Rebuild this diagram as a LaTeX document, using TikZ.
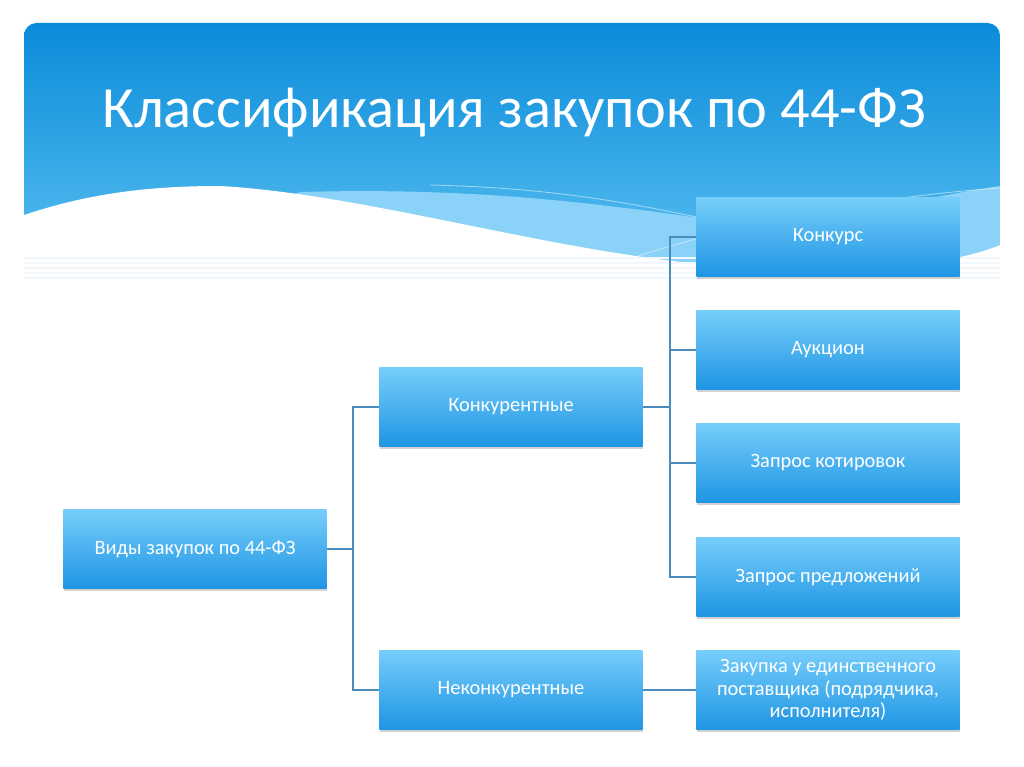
\documentclass[tikz,border=0pt]{standalone}
\usepackage{fontspec}
\setmainfont{Carlito}
\usetikzlibrary{positioning,shadows}

\definecolor{hdrtop}{HTML}{0A8BDA}
\definecolor{hdrbot}{HTML}{5CC1F1}
\definecolor{band}{HTML}{8AD2F7}
\definecolor{boxtop}{HTML}{76CDFA}
\definecolor{boxmid}{HTML}{4DB6F2}
\definecolor{boxbot}{HTML}{1E95E4}
\definecolor{wire}{HTML}{4A8DBD}
\definecolor{stripe}{HTML}{F1F8FD}

\begin{document}
\begin{tikzpicture}[x=0.025cm,y=-0.025cm,
  box/.style={minimum width=6.575cm, minimum height=1.975cm, inner sep=0pt,
    top color=boxtop, middle color=boxmid, bottom color=boxbot, text=white,
    font=\fontsize{14.5}{16}\selectfont, align=center,
    drop shadow={shadow xshift=0.6pt, shadow yshift=-1.8pt, opacity=0.35}},
  wire/.style={draw=wire, line width=1.1pt}]

  \fill [white] (0,0) rectangle (1024,767);
  \useasboundingbox (0,0) rectangle (1024,767);

  % header with wave
  \begin{scope}
    \clip [rounded corners=9] (24,23) rectangle (1000,300);
    \shade [top color=hdrtop, bottom color=hdrbot] (24,23) rectangle (1000,280);
    \fill [band] (300,192) .. controls (450,188) and (560,198) .. (700,218)
      .. controls (820,232) and (900,200) .. (1000,186) -- (1000,290) -- (24,290) -- cycle;
    \draw [white, opacity=0.5, line width=0.6pt] (430,185) .. controls (560,188) and (640,205) .. (720,222);
    \draw [white, opacity=0.5, line width=0.6pt] (620,262) .. controls (760,215) and (900,195) .. (1000,188);
  \end{scope}
  \fill [white] (0,215) -- (24,215) .. controls (90,193) and (150,186) .. (220,186)
    .. controls (380,195) and (580,262) .. (760,268)
    .. controls (870,276) and (960,262) .. (1000,245) -- (1024,245) -- (1024,320) -- (0,320) -- cycle;
  \foreach \y in {258,263,268,273,278}
    \draw [stripe, line width=0.8pt] (24,\y) -- (1000,\y);

  \node [text=white, font=\fontsize{41.5}{48}\selectfont, anchor=base] (title) at (514,128) {Классификация закупок по 44-ФЗ};

  % boxes
  \node [box] (vid) at (195,549) {Виды закупок по 44-ФЗ};
  \node [box] (konk) at (511,407) {Конкурентные};
  \node [box] (nekonk) at (511,690) {Неконкурентные};
  \node [box] (konkurs) at (828,237) {Конкурс};
  \node [box] (aukc) at (828,350) {Аукцион};
  \node [box] (kotir) at (828,463) {Запрос котировок};
  \node [box] (predl) at (828,577) {Запрос предложений};
  \node [box] (edin) at (828,690) {Закупка у единственного\\поставщика (подрядчика,\\исполнителя)};

  % connectors
  \draw [wire] (vid.east) -- ++(26,0) coordinate (j1);
  \draw [wire] (j1) |- (konk.west);
  \draw [wire] (j1) |- (nekonk.west);
  \draw [wire] (konk.east) -- ++(27,0) coordinate (j2);
  \foreach \n in {konkurs,aukc,kotir,predl}
    \draw [wire] (j2) |- (\n.west);
  \draw [wire] (nekonk.east) -- (edin.west);

\end{tikzpicture}
\end{document}
